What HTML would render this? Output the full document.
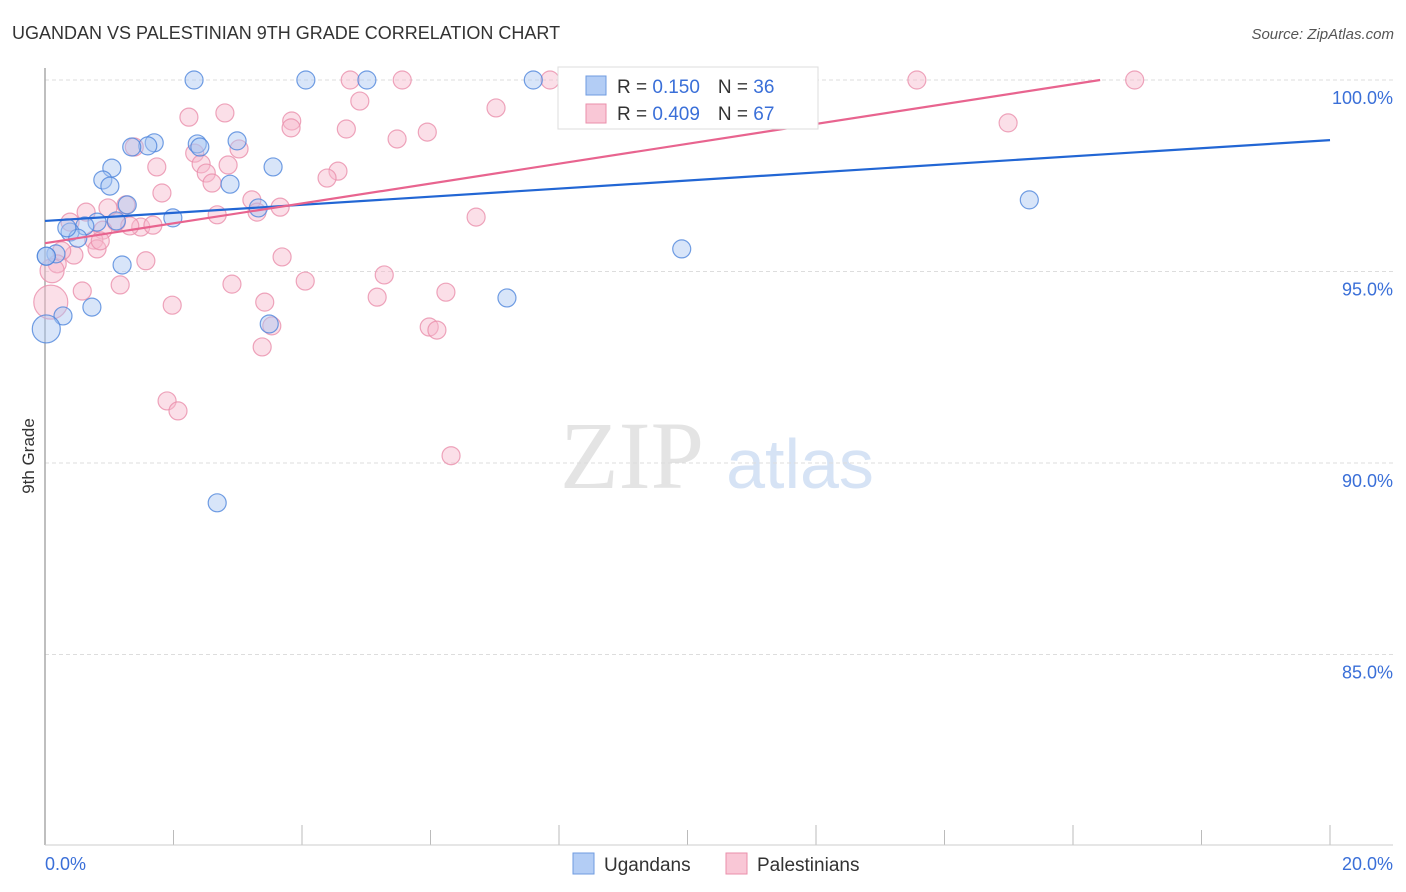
<!DOCTYPE html>
<html><head><meta charset="utf-8"><style>
body{margin:0;background:#fff;font-family:"Liberation Sans",sans-serif}
svg{display:block}
</style></head><body>
<svg id="c" width="1406" height="892">
<text x="12" y="39" font-size="18" fill="#333">UGANDAN VS PALESTINIAN 9TH GRADE CORRELATION CHART</text>
<text x="1394" y="39" font-size="15" fill="#555" font-style="italic" text-anchor="end">Source: ZipAtlas.com</text>
<text x="632" y="488" font-size="96" fill="#e4e4e4" font-family="Liberation Serif,serif" text-anchor="middle">ZIP</text>
<text x="800" y="488" font-size="70" fill="#d6e3f5" text-anchor="middle">atlas</text>
<g id="grid"></g>
<line x1="45" y1="68" x2="45" y2="845" stroke="#aaa" stroke-width="1.5"/>
<line x1="45" y1="845" x2="1393" y2="845" stroke="#ccc"/>
<text transform="translate(34,456) rotate(-90)" font-size="17" fill="#333" text-anchor="middle">9th Grade</text>
<text x="45" y="870" font-size="18" fill="#3a6fd8">0.0%</text>
<text x="1393" y="870" font-size="18" fill="#3a6fd8" text-anchor="end">20.0%</text>
<g id="pts"></g>
<g id="lines"></g>
<g>
<rect x="558" y="67" width="260" height="62" fill="#fff" stroke="#ddd"/>
<rect x="586" y="76" width="20" height="19" fill="#b3cdf5" stroke="#6f9be0"/>
<rect x="586" y="104" width="20" height="19" fill="#f9c7d6" stroke="#ea8fab"/>
<text x="617" y="93" font-size="19" fill="#333">R = <tspan fill="#3a6fd8">0.150</tspan><tspan dx="18">N = </tspan><tspan fill="#3a6fd8">36</tspan></text>
<text x="617" y="120" font-size="19" fill="#333">R = <tspan fill="#3a6fd8">0.409</tspan><tspan dx="18">N = </tspan><tspan fill="#3a6fd8">67</tspan></text>
</g>
<g>
<rect x="573" y="853" width="21" height="21" fill="#b3cdf5" stroke="#6f9be0"/>
<text x="604" y="871" font-size="19" fill="#333">Ugandans</text>
<rect x="726" y="853" width="21" height="21" fill="#f9c7d6" stroke="#ea8fab"/>
<text x="757" y="871" font-size="19" fill="#333">Palestinians</text>
</g>
</svg>
<script>
const yTicks=[100,95,90,85];
const yTickLabels=["100.0%","95.0%","90.0%","85.0%"];
const xTicks=[0,2,4,6,8,10,12,14,16,18,20];
const blueX=[2.32,4.06,5.01,7.60,1.70,1.60,1.35,2.37,2.41,2.99,1.04,3.55,0.90,1.01,2.88,1.28,3.32,1.11,1.99,0.81,0.62,0.39,0.51,0.17,0.02,0.34,1.20,0.73,0.28,3.49,7.19,9.91,15.32,2.68,0.02,0.02];
const blueY=[100,100,100,100,98.36,98.28,98.25,98.33,98.25,98.41,97.70,97.73,97.39,97.23,97.28,96.74,96.66,96.32,96.40,96.29,96.19,96.03,95.87,95.46,95.40,96.14,95.17,94.07,93.84,93.63,94.31,95.59,96.87,88.96,93.50,95.4];
const blueR=[9,9,9,9,9,9,9,9,9,9,9,9,9,9,9,9,9,9,9,9,9,9,9,9,9,9,9,9,9,9,9,9,9,9,14,9];
const pinkX=[4.75,5.56,7.86,11.81,13.57,16.96,4.90,7.02,2.24,2.80,3.84,3.83,4.69,5.48,5.95,14.99,3.02,1.39,2.33,2.43,2.85,1.74,2.51,4.56,4.39,2.60,1.82,3.22,3.66,1.26,0.64,0.98,2.68,3.30,6.71,0.39,1.11,1.49,1.68,1.32,0.90,0.76,0.81,0.45,0.26,0.19,1.57,3.69,5.28,4.05,1.17,2.91,0.58,1.98,3.42,5.17,6.24,5.98,6.10,3.53,3.38,1.90,2.07,6.32,0.09,0.11,0.86];
const pinkY=[100,100,100,100,100,100,99.45,99.27,99.03,99.14,98.93,98.75,98.72,98.46,98.64,98.88,98.20,98.25,98.09,97.81,97.78,97.73,97.57,97.62,97.44,97.31,97.05,96.87,96.68,96.74,96.55,96.66,96.48,96.55,96.42,96.29,96.29,96.16,96.21,96.19,96.08,95.82,95.59,95.43,95.54,95.20,95.28,95.38,94.91,94.75,94.65,94.67,94.49,94.12,94.20,94.33,94.46,93.55,93.47,93.58,93.03,91.62,91.36,90.19,94.20,95.02,95.8];
const pinkR=[9,9,9,9,9,9,9,9,9,9,9,9,9,9,9,9,9,9,9,9,9,9,9,9,9,9,9,9,9,9,9,9,9,9,9,9,9,9,9,9,9,9,9,9,9,9,9,9,9,9,9,9,9,9,9,9,9,9,9,9,9,9,9,9,17,12,9];
const blueTrend=[96.32,98.43];
const pinkTrend=[95.74,0.2594];
const NS="http://www.w3.org/2000/svg";
const sx=v=>45+v/20*1285;
const sy=v=>80+(100-v)*38.3;
function mk(tag,attrs,parent){const e=document.createElementNS(NS,tag);for(const k in attrs)e.setAttribute(k,attrs[k]);parent.appendChild(e);return e;}
const grid=document.getElementById('grid');
yTicks.forEach((t,i)=>{
 const l=mk('line',{x1:45,x2:1393,y1:sy(t),y2:sy(t),stroke:'#ddd','stroke-dasharray':'4,3'},grid);
 
 
 const tx=mk('text',{x:1393,y:sy(t)+24,'font-size':18,fill:'#3a6fd8','text-anchor':'end'},grid);
 tx.textContent=yTickLabels[i];
 
 
});
xTicks.forEach(t=>{
 const l=mk('line',{x1:sx(t),x2:sx(t),y1:t%4===2?830:825,y2:845,stroke:'#bbb'},grid);
 
 
});
const pts=document.getElementById('pts');
function series(X,Y,R,fill,stroke,name){
 X.forEach((x,i)=>{
  const c=mk('circle',{cx:sx(x),cy:sy(Y[i]),r:R[i],fill:fill,'fill-opacity':0.45,stroke:stroke,'stroke-opacity':0.8,'stroke-width':1.2},pts);
  
  
 });
}
series(pinkX,pinkY,pinkR,'#f7b8cb','#ea8fab','palestinian-point');
series(blueX,blueY,blueR,'#a9c6f2','#4f86dc','ugandan-point');
const lines=document.getElementById('lines');
const bl=mk('line',{x1:sx(0),y1:sy(blueTrend[0]),x2:sx(20),y2:sy(blueTrend[1]),stroke:'#2266d4','stroke-width':2.2},lines);


const xEnd=Math.min(20,(100-pinkTrend[0])/pinkTrend[1]);
const pl=mk('line',{x1:sx(0),y1:sy(pinkTrend[0]),x2:sx(xEnd),y2:sy(pinkTrend[0]+pinkTrend[1]*xEnd),stroke:'#e8648f','stroke-width':2.2},lines);


</script>
</body></html>
